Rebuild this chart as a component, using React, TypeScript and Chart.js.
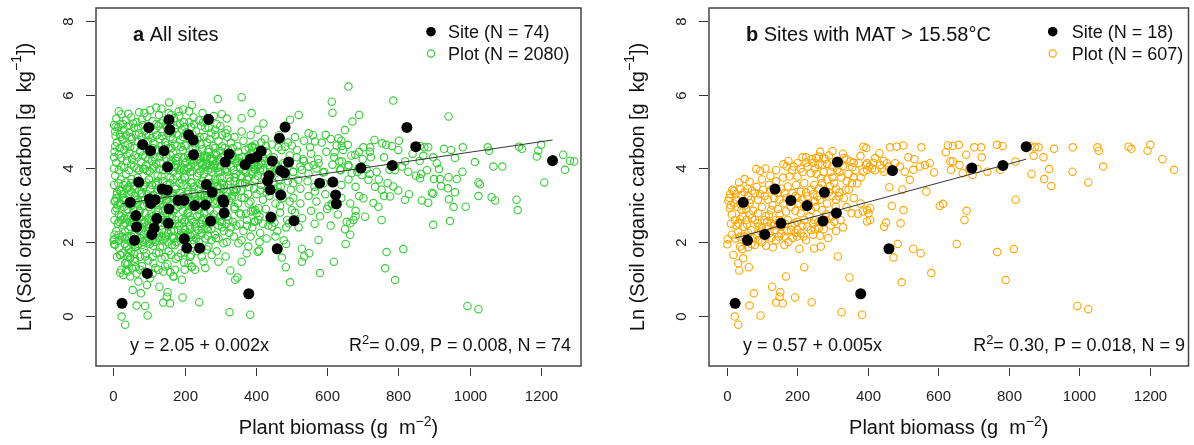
import React, { useEffect, useRef } from 'react';
import { Chart, registerables } from 'chart.js';

Chart.register(...registerables);

type P = [number, number];

const xTicks: number[] = [0, 200, 400, 600, 800, 1000, 1200];
const yTicks: number[] = [0, 2, 4, 6, 8];

// Sites in the MAT > 15.58 °C subset (N = 18)
const sitesHot: P[] = [
  [24, 0.34], [47, 3.08], [59, 2.05], [108, 2.21], [137, 3.44], [154, 2.51], [182, 3.13], [228, 2.99],
  [273, 2.57], [277, 3.35], [311, 2.79], [314, 4.17], [380, 0.6], [460, 1.82], [470, 3.94], [695, 4.01],
  [783, 4.08], [849, 4.59],
];

// Remaining sites of the full data set
const sitesOther: P[] = [
  [63, 2.72], [65, 2.41], [71, 3.63], [82, 4.65], [99, 5.11], [104, 4.48], [95, 1.15], [101, 3.17],
  [105, 3.05], [117, 3.15], [114, 2.38], [122, 2.64], [142, 4.48], [151, 3.41], [156, 5.32], [158, 5.05],
  [152, 4.04], [156, 2.9], [198, 3.13], [199, 2.09], [206, 1.84], [211, 4.91], [224, 4.77], [225, 4.37],
  [242, 1.84], [258, 3.01], [261, 3.56], [267, 5.33], [310, 3.08], [307, 3.15], [325, 4.39], [370, 4.1],
  [385, 4.26], [403, 4.31], [415, 4.47], [433, 3.66], [437, 3.8], [440, 3.42], [442, 2.68], [446, 4.2],
  [466, 4.82], [470, 3.28], [482, 5.12], [480, 3.88], [492, 4.17], [507, 2.58], [579, 3.6], [616, 3.63],
  [624, 3.28], [626, 3.04], [824, 5.11], [1233, 4.21],
];

// Plots in the MAT > 15.58 °C subset
const plotsHot: P[] = [
  [23, -0.02], [33, -0.24], [77, 0.61], [65, 0.28], [96, 0.01], [129, 0.79], [140, 0.36], [150, 0.52],
  [152, 0.64], [159, 0.34], [168, 1.07], [194, 0.5], [241, 0.37], [220, 1.32], [326, 0.1], [348, 1.04],
  [315, 1.61], [384, 0.03],
  [19, 1.65], [33, 1.43], [36, 1.23], [63, 1.32], [47, 1.56], [3, 2.08], [2, 1.94], [38, 1.88],
  [44, 1.81], [61, 1.86], [80, 1.92], [112, 1.9], [131, 1.86], [164, 1.92], [206, 1.82], [248, 1.83],
  [267, 1.88], [288, 2.11], [265, 2.17], [239, 2.33], [210, 2.24],
  [5, 3.12], [21, 3.39], [16, 3.42], [35, 3.62], [51, 3.71], [65, 3.64], [84, 3.98], [95, 3.93],
  [124, 3.8], [161, 4.11], [201, 4.14], [226, 4.16], [253, 4.28], [262, 4.32], [276, 4.29], [300, 4.47],
  [332, 4.28], [351, 4.19], [379, 4.34], [388, 4.59], [370, 3.6], [346, 3.42], [354, 2.78], [372, 2.77],
  [386, 2.83], [398, 2.87], [332, 3.19], [337, 3.42], [318, 3.24], [293, 3.51], [267, 3.73], [248, 3.55],
  [220, 3.6], [197, 3.55], [173, 3.51], [150, 3.15], [103, 3.42], [80, 3.33], [65, 3.06], [9, 2.92],
  [23, 2.6], [42, 2.87], [47, 2.42], [70, 2.33], [89, 2.78], [107, 2.6], [112, 2.15], [136, 2.33],
  [164, 2.15], [192, 2.51], [220, 2.6], [239, 2.87], [248, 2.6], [271, 2.87], [285, 3.05], [309, 2.96],
  [323, 2.6],
  [374, 4.14], [398, 3.96], [356, 4.03], [313, 3.96], [295, 3.91], [271, 4.1], [239, 3.87], [201, 3.78],
  [178, 3.78], [145, 3.33], [117, 3.15], [126, 2.87], [168, 2.83], [182, 2.96], [206, 3.05], [229, 3.24],
  [173, 2.6], [140, 2.6], [154, 2.42], [93, 2.42], [56, 2.6], [28, 3.15], [33, 2.29], [51, 2.15],
  [75, 2.11], [126, 2.11], [187, 2.11], [229, 2.42], [210, 2.78], [257, 3.24], [276, 3.28], [220, 2.96],
  [61, 3.24], [89, 3.15], [42, 3.28], [126, 3.42], [164, 3.33], [187, 3.33], [210, 3.37], [239, 3.42],
  [262, 3.46], [33, 2.51], [80, 2.6], [117, 2.42], [61, 2.24], [98, 2.29], [154, 2.24], [182, 2.33],
  [201, 2.33], [126, 2.51],
  [12, 3.0], [30, 2.95], [55, 2.9], [75, 2.85], [100, 2.95], [120, 2.75], [145, 2.9], [160, 3.05],
  [180, 3.1], [195, 2.85], [215, 3.15], [232, 3.05], [252, 2.95], [282, 2.75], [300, 2.7], [310, 3.15],
  [260, 2.55], [235, 2.7], [100, 3.7], [120, 3.55], [140, 3.65], [160, 3.75], [185, 3.95], [215, 3.9],
  [230, 4.05], [250, 4.0], [285, 4.12], [310, 4.2], [330, 4.05], [345, 3.85], [365, 3.95], [285, 3.7],
  [305, 3.6], [325, 3.75], [60, 3.45], [85, 3.5], [40, 3.05], [15, 2.75], [10, 3.3], [25, 2.1],
  [55, 2.0], [70, 1.95], [90, 2.05], [105, 2.2], [140, 2.05], [175, 2.0], [200, 2.15], [225, 2.05],
  [245, 2.2], [275, 2.35], [295, 2.45], [310, 2.3], [330, 2.4], [340, 2.95], [360, 3.2], [380, 3.05],
  [45, 2.7], [65, 2.75], [110, 2.7], [130, 3.0], [150, 2.75], [195, 3.25], [250, 3.1], [270, 3.6],
  [290, 3.35], [310, 3.45], [355, 3.6], [380, 3.75], [395, 4.1], [330, 4.4], [290, 4.35], [265, 4.45],
  [240, 4.25], [215, 4.3], [170, 4.05], [140, 3.95], [110, 4.0],
  [396, 4.55], [463, 4.57], [482, 4.59], [501, 4.62], [552, 4.57], [627, 4.62], [641, 4.61], [658, 4.64],
  [702, 4.57], [721, 4.57], [766, 4.64], [782, 4.61], [621, 4.44], [679, 4.37], [723, 4.3], [819, 4.19],
  [515, 4.3], [532, 4.25], [433, 4.41], [421, 4.28], [398, 4.14], [412, 4.0], [435, 4.09], [454, 4.14],
  [477, 4.14], [491, 4.05], [505, 3.91], [529, 3.96], [548, 4.05], [562, 4.09], [576, 4.14], [588, 3.89],
  [634, 4.19], [641, 4.19], [636, 3.96], [660, 4.09], [669, 3.87], [688, 4.0], [697, 3.82], [711, 3.98],
  [739, 3.91], [775, 3.96], [519, 3.69], [388, 3.91], [445, 3.91], [461, 3.49], [498, 3.42], [566, 3.37],
  [819, 3.15], [604, 2.98], [613, 3.04], [680, 2.85], [674, 2.6], [468, 2.98], [501, 2.87], [407, 2.92],
  [402, 2.78], [407, 2.6], [398, 2.56], [452, 2.53], [446, 2.42], [493, 2.51], [485, 1.95], [473, 1.58],
  [529, 1.82], [550, 1.7], [652, 1.95], [580, 1.16], [496, 0.91], [767, 1.73], [814, 1.81], [791, 0.97],
  [405, 4.05], [420, 3.95], [440, 4.0], [460, 4.05], [470, 3.95], [415, 4.15], [445, 4.2],
  [861, 4.61], [873, 4.57], [884, 4.57], [870, 4.34], [898, 4.3], [928, 4.53], [981, 4.57], [1051, 4.57],
  [1055, 4.48], [1139, 4.59], [1147, 4.53], [1201, 4.64], [1193, 4.48], [1235, 4.25], [1268, 3.96],
  [1067, 4.05], [864, 3.85], [914, 3.98], [900, 3.71], [920, 3.52], [980, 3.91], [1025, 3.62],
  [994, 0.27], [1025, 0.18],
];

// Further MAT > 15.58 °C plots in the dense core of the cloud
const plotsHotCore: P[] = [
  [8, 3.2], [20, 3.05], [25, 3.3], [38, 3.45], [50, 3.35], [52, 3.0], [68, 3.15], [72, 3.4], [95, 3.3],
  [108, 3.25], [135, 3.2], [155, 3.45], [170, 3.2], [200, 3.2], [225, 3.35], [245, 3.3], [265, 3.15],
  [280, 3.4], [300, 3.25], [320, 3.35],
  [12, 2.5], [28, 2.45], [38, 2.62], [58, 2.48], [72, 2.65], [88, 2.52], [100, 2.4], [115, 2.55],
  [135, 2.45], [150, 2.6], [165, 2.5], [185, 2.45], [200, 2.55], [215, 2.45], [245, 2.5], [262, 2.38],
  [280, 2.6], [305, 2.55],
  [15, 2.2], [38, 2.15], [62, 2.05], [85, 2.2], [100, 2.0], [122, 2.25], [148, 2.15], [170, 2.3],
  [195, 2.25], [218, 2.15], [250, 2.35],
  [175, 4.2], [190, 4.05], [210, 4.0], [225, 4.3], [245, 4.15], [260, 4.1], [280, 4.25], [300, 4.05],
  [320, 4.15], [340, 4.25], [360, 4.15], [255, 3.85], [275, 3.9], [300, 3.75], [320, 3.9], [340, 3.65],
  [360, 3.75],
];

// Remaining plots of the full data set
const plotsOther: P[] = [
  [8, 5.35], [20, 5.2], [35, 5.3], [50, 5.38], [65, 5.25], [80, 5.32], [95, 5.4], [110, 5.28],
  [5, 5.0], [18, 4.92], [30, 5.05], [45, 4.98], [58, 5.1], [72, 4.95], [88, 5.02], [100, 4.9], [115, 5.05],
  [10, 4.7], [25, 4.78], [40, 4.65], [52, 4.8], [68, 4.72], [85, 4.6], [97, 4.75], [112, 4.68],
  [3, 4.45], [15, 4.38], [30, 4.5], [45, 4.42], [60, 4.35], [75, 4.48], [90, 4.3], [105, 4.4], [118, 4.5],
  [8, 4.15], [22, 4.05], [38, 4.2], [50, 4.1], [65, 4.0], [78, 4.18], [92, 4.08], [108, 4.2], [120, 4.12],
  [128, 5.45], [140, 5.3], [155, 5.5], [170, 5.35], [185, 5.42], [198, 5.25], [212, 5.55], [225, 5.38], [240, 5.3],
  [125, 5.15], [138, 5.0], [150, 5.1], [165, 4.95], [178, 5.18], [192, 5.05], [205, 4.98], [218, 5.12],
  [232, 5.0], [246, 5.15],
  [130, 4.8], [145, 4.7], [160, 4.85], [172, 4.65], [188, 4.78], [200, 4.62], [215, 4.8], [228, 4.68], [242, 4.85],
  [125, 4.5], [140, 4.38], [155, 4.55], [168, 4.42], [182, 4.3], [195, 4.5], [210, 4.35], [222, 4.55],
  [238, 4.4], [250, 4.52],
  [132, 4.15], [148, 4.05], [162, 4.2], [175, 4.1], [190, 4.0], [205, 4.18], [218, 4.05], [235, 4.22], [248, 4.1],
  [258, 5.1], [275, 4.95], [290, 5.2], [305, 4.9], [320, 5.05], [340, 4.85], [360, 5.0], [385, 4.9], [405, 5.05],
  [262, 4.7], [280, 4.6], [295, 4.75], [312, 4.55], [330, 4.7], [348, 4.6], [365, 4.75], [380, 4.55],
  [398, 4.65], [415, 4.7],
  [255, 4.35], [272, 4.25], [288, 4.4], [302, 4.3], [318, 4.2], [335, 4.35], [352, 4.28], [368, 4.15],
  [385, 4.4], [400, 4.22], [418, 4.3],
  [265, 3.95], [282, 4.05], [300, 3.9], [338, 3.95], [355, 4.02], [372, 3.88], [395, 4.0], [412, 3.92],
  [5, 3.8], [20, 3.7], [35, 3.85], [50, 3.6], [68, 3.75], [85, 3.55], [100, 3.7], [118, 3.6], [135, 3.78],
  [150, 3.55], [168, 3.7], [185, 3.6], [200, 3.75], [218, 3.62], [235, 3.8], [250, 3.65],
  [10, 3.35], [28, 3.2], [45, 3.4], [62, 3.15], [78, 3.3], [95, 3.05], [112, 3.28], [128, 3.1], [145, 3.25],
  [160, 3.0], [178, 3.2], [195, 3.05], [210, 3.3], [228, 3.12], [245, 3.25],
  [5, 2.85], [22, 2.7], [38, 2.9], [55, 2.65], [72, 2.8], [88, 2.55], [105, 2.75], [122, 2.6], [140, 2.85],
  [158, 2.7], [175, 2.9], [192, 2.62], [208, 2.8], [225, 2.55], [242, 2.75],
  [8, 2.3], [25, 2.15], [42, 2.35], [58, 2.2], [75, 2.1], [92, 2.3], [110, 2.05], [128, 2.25], [145, 2.1],
  [162, 2.3], [180, 2.0], [198, 2.2], [215, 2.35], [232, 2.1], [248, 2.25],
  [15, 1.85], [32, 1.95], [50, 1.75], [68, 1.9], [85, 1.8], [102, 1.95], [120, 1.7], [138, 1.88], [155, 1.75],
  [172, 1.92], [190, 1.7], [208, 1.85], [225, 1.95],
  [40, 1.4], [60, 1.55], [80, 1.35], [98, 1.5], [118, 1.3], [135, 1.55], [152, 1.4], [175, 1.55], [198, 1.45], [215, 1.6],
  [258, 3.6], [275, 3.5], [292, 3.7], [310, 3.55], [328, 3.65], [345, 3.45], [362, 3.6], [380, 3.5], [398, 3.7],
  [415, 3.55], [432, 3.45], [450, 3.6], [470, 3.5], [490, 3.65],
  [262, 3.2], [280, 3.1], [298, 3.3], [315, 3.15], [332, 3.25], [350, 3.05], [368, 3.2], [385, 3.1], [402, 3.3],
  [420, 3.15], [438, 3.25], [455, 3.05], [475, 3.2], [495, 3.1],
  [255, 2.8], [272, 2.65], [290, 2.85], [320, 2.7], [340, 2.9], [358, 2.75], [375, 2.6], [392, 2.85], [410, 2.7],
  [428, 2.9], [448, 2.65], [468, 2.8], [488, 2.6],
  [265, 2.35], [285, 2.2], [305, 2.4], [325, 2.25], [345, 2.45], [365, 2.3], [390, 2.4], [412, 2.25], [435, 2.45],
  [460, 2.3], [485, 2.4],
  [425, 4.8], [445, 4.65], [465, 4.9], [490, 4.7], [510, 4.85], [535, 4.75], [560, 4.9], [585, 4.7], [610, 4.8], [640, 4.75],
  [430, 4.45], [450, 4.3], [472, 4.5], [495, 4.35], [515, 4.5], [535, 4.2], [555, 4.4], [575, 4.25], [598, 4.45],
  [620, 4.3], [645, 4.5], [668, 4.35], [690, 4.45],
  [440, 4.05], [460, 3.95], [482, 4.1], [505, 3.9], [525, 4.05], [548, 3.85], [570, 4.0], [592, 3.9], [615, 4.1],
  [638, 3.95], [660, 4.05], [685, 3.9],
  [505, 3.6], [525, 3.45], [545, 3.65], [565, 3.5], [590, 3.6], [640, 3.55], [660, 3.7], [680, 3.5],
  [505, 3.2], [525, 3.05], [548, 3.25], [570, 3.1], [595, 3.3], [615, 3.0], [640, 3.2], [665, 3.05], [690, 3.25],
  [510, 2.8], [530, 2.65], [555, 2.85], [580, 2.7], [600, 2.9], [630, 2.75], [655, 2.55], [680, 2.7],
  [520, 2.4], [565, 2.5], [610, 2.45], [650, 2.35],
  [660, 6.22], [613, 5.81], [615, 5.51], [786, 5.84], [690, 5.45], [671, 5.27], [650, 5.04], [520, 5.45],
  [496, 5.32], [596, 4.91], [548, 4.95], [566, 4.73], [632, 4.82], [733, 4.77], [755, 4.68], [802, 4.75],
  [828, 3.91], [786, 3.51], [777, 3.24], [753, 3.42], [716, 3.69], [702, 3.19], [730, 3.06], [753, 2.6],
  [744, 2.96], [707, 2.69], [665, 2.51], [665, 2.2], [619, 1.47], [536, 1.61], [529, 1.47], [484, 1.32],
  [576, 2.06], [763, 1.29], [409, 1.77], [421, 5.22],
  [720, 3.85], [745, 3.7], [770, 3.6], [800, 3.4], [760, 3.25], [735, 3.5], [790, 3.95], [810, 4.05],
  [850, 3.8], [830, 3.3], [860, 4.2], [880, 3.95], [840, 4.4], [700, 4.25], [720, 4.45], [760, 4.3], [800, 4.5],
  [941, 5.41], [948, 4.5], [1189, 4.32], [1263, 4.37], [1282, 4.21], [1294, 4.19], [959, 4.28], [1015, 4.17],
  [1092, 4.05], [908, 4.14], [861, 3.73], [917, 3.71], [941, 3.76], [964, 3.71], [939, 3.46], [959, 3.35],
  [1029, 3.57], [894, 3.34], [898, 3.31], [866, 3.13], [884, 3.07], [942, 3.16], [955, 2.95], [989, 2.96],
  [1025, 3.25], [1062, 3.22], [1072, 3.13], [1132, 3.15], [1135, 2.87], [898, 2.47], [945, 2.57], [1210, 3.62],
  [47, 1.07], [54, 0.7], [70, 0.93], [94, 0.84], [103, 1.02], [89, 0.27], [28, 1.11], [52, 1.29], [75, 1.25],
  [126, 1.25], [169, 1.07], [192, 0.98], [229, 1.25], [328, 1.23], [342, 0.98], [19, 1.17], [37, 1.45],
  [211, 1.43], [253, 1.47], [295, 1.47], [360, 1.47], [379, 1.88], [405, 1.74], [309, 1.97], [351, 1.97],
  [374, 1.7], [276, 1.65], [248, 1.61], [220, 1.34], [173, 1.25], [145, 1.34], [112, 1.43], [89, 1.61],
  [61, 1.47], [42, 1.7], [0, 2.06], [5, 1.93], [19, 1.65],
  [360, 5.93], [293, 5.88], [156, 5.79], [220, 5.72], [120, 5.65], [22, 5.47], [6, 5.13], [87, 5.5],
  [183, 5.54], [304, 5.47], [388, 5.5], [360, 5.36],
];

// Further plots of the full data set in the dense core
const plotsOtherCore: P[] = [
  [15, 5.55], [42, 5.48], [72, 5.52], [103, 5.58], [135, 5.62], [162, 5.45], [196, 5.6], [250, 5.5], [282, 5.42], [318, 5.35],
  [2, 5.18], [14, 5.12], [27, 5.2], [42, 5.15], [55, 5.22], [70, 5.1], [83, 5.17], [105, 5.12], [120, 5.2],
  [133, 5.22], [147, 5.18], [160, 5.2], [173, 5.08], [187, 5.2], [200, 5.12], [213, 5.25], [227, 5.2],
  [252, 5.25], [268, 5.1], [285, 5.05], [300, 5.15], [315, 4.95],
  [6, 4.88], [20, 4.85], [35, 4.9], [48, 4.85], [62, 4.92], [78, 4.85], [92, 4.9], [107, 4.82], [122, 4.9],
  [137, 4.88], [152, 4.95], [167, 4.8], [182, 4.9], [195, 4.85], [222, 4.92], [235, 4.78], [255, 4.85],
  [270, 4.8], [287, 4.9], [320, 4.85],
  [5, 4.6], [18, 4.55], [33, 4.62], [47, 4.58], [60, 4.55], [78, 4.62], [92, 4.55], [110, 4.55], [135, 4.6],
  [148, 4.62], [163, 4.55], [178, 4.6], [190, 4.58], [205, 4.62], [230, 4.6], [245, 4.65], [268, 4.52],
  [285, 4.55], [305, 4.6], [322, 4.5],
  [2, 4.3], [22, 4.28], [37, 4.35], [52, 4.25], [68, 4.3], [83, 4.35], [98, 4.25], [115, 4.3], [130, 4.3],
  [148, 4.28], [160, 4.35], [175, 4.28], [198, 4.28], [215, 4.22], [228, 4.35], [245, 4.3], [262, 4.3],
  [280, 4.2], [295, 4.25], [312, 4.35],
  [2, 4.0], [15, 3.95], [30, 4.02], [44, 3.95], [58, 4.05], [72, 3.95], [88, 3.98], [102, 3.92], [115, 4.05],
  [128, 3.98], [155, 3.95], [168, 3.9], [180, 4.02], [198, 3.95], [208, 4.02], [222, 3.92], [245, 3.92],
  [258, 4.05], [275, 4.0], [292, 4.02], [318, 3.98],
  [2, 3.55], [14, 3.6], [28, 3.55], [42, 3.5], [58, 3.52], [75, 3.6], [92, 3.62], [108, 3.55], [125, 3.65],
  [142, 3.45], [158, 3.6], [176, 3.45], [192, 3.7], [208, 3.5], [226, 3.5], [242, 3.58], [258, 3.42],
  [282, 3.6], [300, 3.48], [320, 3.55],
  [3, 3.1], [18, 3.05], [34, 3.15], [50, 3.0], [70, 3.1], [86, 2.98], [103, 3.2], [120, 3.0], [137, 3.15],
  [152, 3.1], [170, 3.25], [188, 3.0], [205, 3.2], [222, 2.98], [238, 3.15], [255, 3.25], [270, 3.15],
  [292, 3.1], [305, 3.0], [325, 3.12],
  [3, 2.6], [15, 2.55], [30, 2.65], [48, 2.55], [64, 2.6], [80, 2.5], [98, 2.65], [114, 2.55], [132, 2.7],
  [148, 2.55], [165, 2.7], [180, 2.5], [200, 2.6], [215, 2.7], [232, 2.5], [252, 2.65], [268, 2.5],
  [285, 2.6], [300, 2.55], [318, 2.5],
  [3, 2.2], [16, 2.05], [32, 2.1], [48, 2.0], [65, 2.05], [82, 2.0], [98, 2.12], [116, 2.0], [135, 2.15],
  [152, 2.0], [170, 2.1], [188, 2.2], [205, 2.0], [222, 2.2], [240, 2.0], [258, 2.1], [275, 2.05],
  [295, 2.1], [318, 2.0],
  [10, 1.6], [25, 1.7], [40, 1.6], [58, 1.68], [75, 1.6], [92, 1.7], [110, 1.6], [128, 1.72], [145, 1.6],
  [162, 1.66], [182, 1.6], [200, 1.72], [218, 1.65], [235, 1.75], [262, 1.8], [290, 1.75],
  [22, 1.25], [40, 1.2], [65, 1.15], [88, 1.2], [110, 1.15], [140, 1.2], [160, 1.18], [200, 1.25], [258, 1.3],
  [335, 4.55], [350, 4.45], [370, 4.5], [390, 4.6], [405, 4.45], [428, 4.6], [345, 4.15], [362, 4.3],
  [378, 4.05], [392, 4.25], [408, 4.1], [425, 4.2], [340, 3.75], [358, 3.8], [375, 3.7], [390, 3.85],
  [405, 3.8], [425, 3.75], [445, 3.85], [465, 3.7], [485, 3.8], [340, 3.35], [358, 3.4], [378, 3.3],
  [395, 3.45], [412, 3.4], [430, 3.35], [448, 3.45], [465, 3.35], [335, 2.55], [355, 2.5], [375, 2.45],
  [395, 2.55], [420, 2.5], [440, 2.6], [338, 2.15], [360, 2.05], [385, 2.15], [410, 2.0], [430, 2.1],
  [455, 2.15], [478, 2.05],
];

// Fitted lines as drawn (start and end over the site range)
const fitAll: P[] = [[24, 3.04], [1233, 4.77]];
const fitHot: P[] = [[24, 2.11], [849, 4.25]];

const FONT = '"Liberation Sans", Arial, Helvetica, sans-serif';
const fnt = (size: number, bold = false) => `${bold ? 'bold ' : ''}${size}px ${FONT}`;

type Seg = { t: string; size: number; bold?: boolean; dy?: number };

function drawSegs(ctx: CanvasRenderingContext2D, segs: Seg[], x: number, y: number, align: 'left' | 'center' | 'right') {
  let total = 0;
  for (const s of segs) {
    ctx.font = fnt(s.size, s.bold);
    total += ctx.measureText(s.t).width;
  }
  let cx = align === 'left' ? x : align === 'right' ? x - total : x - total / 2;
  ctx.textAlign = 'left';
  for (const s of segs) {
    ctx.font = fnt(s.size, s.bold);
    ctx.fillText(s.t, cx, y + (s.dy || 0));
    cx += ctx.measureText(s.t).width;
  }
}

type PanelCfg = {
  left: number;
  padLeft: number;
  padRight: number;
  xmin: number;
  xmax: number;
  color: string;
  letter: string;
  title: string;
  siteLabel: string;
  plotLabel: string;
  eq: string;
  stats: string;
  yTickX: number;
  yTitleX: number;
  labelX: number;
  legendX: number;
  legendTextX: number;
  eqX: number;
  statsRight: number;
  plots: P[];
  sites: P[];
  fit: P[];
};

const W = 597;
const H = 445;

function Panel({ cfg }: { cfg: PanelCfg }) {
  const ref = useRef<HTMLCanvasElement | null>(null);
  useEffect(() => {
    if (!ref.current) return;
    const decor = {
      id: 'decor',
      afterDraw(chart: any) {
        const ctx: CanvasRenderingContext2D = chart.ctx;
        const a = chart.chartArea;
        const xs = chart.scales.x;
        const ys = chart.scales.y;
        ctx.save();
        ctx.strokeStyle = '#444';
        ctx.lineWidth = 1.5;
        ctx.strokeRect(a.left, a.top, a.right - a.left, a.bottom - a.top);
        ctx.strokeStyle = '#333';
        ctx.lineWidth = 1;
        ctx.fillStyle = '#222';
        ctx.font = fnt(15);
        ctx.textAlign = 'center';
        ctx.textBaseline = 'alphabetic';
        for (const v of xTicks) {
          const px = Math.round(xs.getPixelForValue(v)) + 0.5;
          ctx.beginPath();
          ctx.moveTo(px, a.bottom + 2);
          ctx.lineTo(px, a.bottom + 10);
          ctx.stroke();
          ctx.fillText(String(v), px, 400.5);
        }
        for (const v of yTicks) {
          const py = Math.round(ys.getPixelForValue(v)) + 0.5;
          ctx.beginPath();
          ctx.moveTo(a.left - 10, py);
          ctx.lineTo(a.left - 1, py);
          ctx.stroke();
          ctx.save();
          ctx.translate(cfg.yTickX, py);
          ctx.rotate(-Math.PI / 2);
          ctx.textAlign = 'center';
          ctx.textBaseline = 'alphabetic';
          ctx.font = fnt(15);
          ctx.fillText(String(v), 0, 0);
          ctx.restore();
        }
        ctx.fillStyle = '#111';
        ctx.textBaseline = 'alphabetic';
        drawSegs(ctx, [
          { t: 'Plant biomass (g  m', size: 20 },
          { t: '\u22122', size: 14, dy: -8 },
          { t: ')', size: 20 },
        ], (a.left + a.right) / 2, 434, 'center');
        ctx.save();
        ctx.translate(cfg.yTitleX, (a.top + a.bottom) / 2);
        ctx.rotate(-Math.PI / 2);
        ctx.textBaseline = 'middle';
        drawSegs(ctx, [
          { t: 'Ln (Soil organic carbon [g  kg', size: 20 },
          { t: '\u22121', size: 14, dy: -8 },
          { t: '])', size: 20 },
        ], 0, 0, 'center');
        ctx.restore();
        ctx.textBaseline = 'alphabetic';
        drawSegs(ctx, [
          { t: cfg.letter, size: 20, bold: true },
          { t: cfg.title, size: 20 },
        ], cfg.labelX, 40.5, 'left');
        ctx.fillStyle = '#000';
        ctx.beginPath();
        ctx.arc(cfg.legendX, 31.7, 4.8, 0, Math.PI * 2);
        ctx.fill();
        ctx.strokeStyle = cfg.color;
        ctx.lineWidth = 1.1;
        ctx.beginPath();
        ctx.arc(cfg.legendX, 53.5, 3.6, 0, Math.PI * 2);
        ctx.stroke();
        ctx.fillStyle = '#111';
        ctx.font = fnt(18);
        ctx.textAlign = 'left';
        ctx.fillText(cfg.siteLabel, cfg.legendTextX, 38);
        ctx.fillText(cfg.plotLabel, cfg.legendTextX, 60);
        drawSegs(ctx, [{ t: cfg.eq, size: 18 }], cfg.eqX, 351, 'left');
        drawSegs(ctx, [
          { t: 'R', size: 18 },
          { t: '2', size: 13, dy: -7 },
          { t: cfg.stats, size: 18 },
        ], cfg.statsRight, 351, 'right');
        ctx.restore();
      },
    };
    const chart = new Chart(ref.current, {
      type: 'scatter',
      data: {
        datasets: [
          {
            label: 'Site',
            data: cfg.sites.map(([x, y]) => ({ x, y })),
            backgroundColor: '#000',
            borderColor: '#000',
            borderWidth: 0,
            pointRadius: 5.5,
            order: 0,
          },
          {
            label: 'Fit',
            type: 'line',
            data: cfg.fit.map(([x, y]) => ({ x, y })),
            borderColor: '#333',
            borderWidth: 1,
            pointRadius: 0,
            fill: false,
            order: 1,
          } as any,
          {
            label: 'Plot',
            data: cfg.plots.map(([x, y]) => ({ x, y })),
            backgroundColor: 'rgba(0,0,0,0)',
            borderColor: cfg.color,
            borderWidth: 1.1,
            pointRadius: 3.7,
            order: 2,
          },
        ],
      },
      options: {
        animation: false,
        responsive: false,
        devicePixelRatio: 1,
        events: [],
        layout: { padding: { left: cfg.padLeft, right: cfg.padRight, top: 8, bottom: H - 366 } },
        plugins: { legend: { display: false }, tooltip: { enabled: false } },
        scales: {
          x: { type: 'linear', display: false, min: cfg.xmin, max: cfg.xmax },
          y: { type: 'linear', display: false, min: -1.36, max: 8.35 },
        },
      },
      plugins: [decor],
    });
    return () => chart.destroy();
  }, [cfg]);
  return (
    <canvas
      ref={ref}
      width={W}
      height={H}
      style={{ position: 'absolute', left: cfg.left, top: 0, width: W, height: H }}
    />
  );
}

const panelA: PanelCfg = {
  left: 0,
  padLeft: 96,
  padRight: W - 581,
  xmin: -49,
  xmax: 1313,
  color: '#33cc33',
  letter: 'a',
  title: ' All sites',
  siteLabel: 'Site (N = 74)',
  plotLabel: 'Plot (N = 2080)',
  eq: 'y = 2.05 + 0.002x',
  stats: '= 0.09, P = 0.008, N = 74',
  yTickX: 72.5,
  yTitleX: 25,
  labelX: 133,
  legendX: 431,
  legendTextX: 448,
  eqX: 130,
  statsRight: 571,
  plots: [...plotsHot, ...plotsHotCore, ...plotsOther, ...plotsOtherCore],
  sites: [...sitesHot, ...sitesOther],
  fit: fitAll,
};

const panelB: PanelCfg = {
  left: W,
  padLeft: 112,
  padRight: 1,
  xmin: -50,
  xmax: 1309,
  color: '#ffa500',
  letter: 'b',
  title: ' Sites with MAT > 15.58\u00b0C',
  siteLabel: 'Site (N = 18)',
  plotLabel: 'Plot (N = 607)',
  eq: 'y = 0.57 + 0.005x',
  stats: '= 0.30, P = 0.018, N = 9',
  yTickX: 88.5,
  yTitleX: 41.5,
  labelX: 149,
  legendX: 455.7,
  legendTextX: 474.7,
  eqX: 146,
  statsRight: 588,
  plots: [...plotsHot, ...plotsHotCore],
  sites: sitesHot,
  fit: fitHot,
};

export default function App() {
  return (
    <div style={{ position: 'fixed', left: 0, top: 0, width: 1194, height: 445, background: '#fff', overflow: 'hidden' }}>
      <Panel cfg={panelA} />
      <Panel cfg={panelB} />
    </div>
  );
}
